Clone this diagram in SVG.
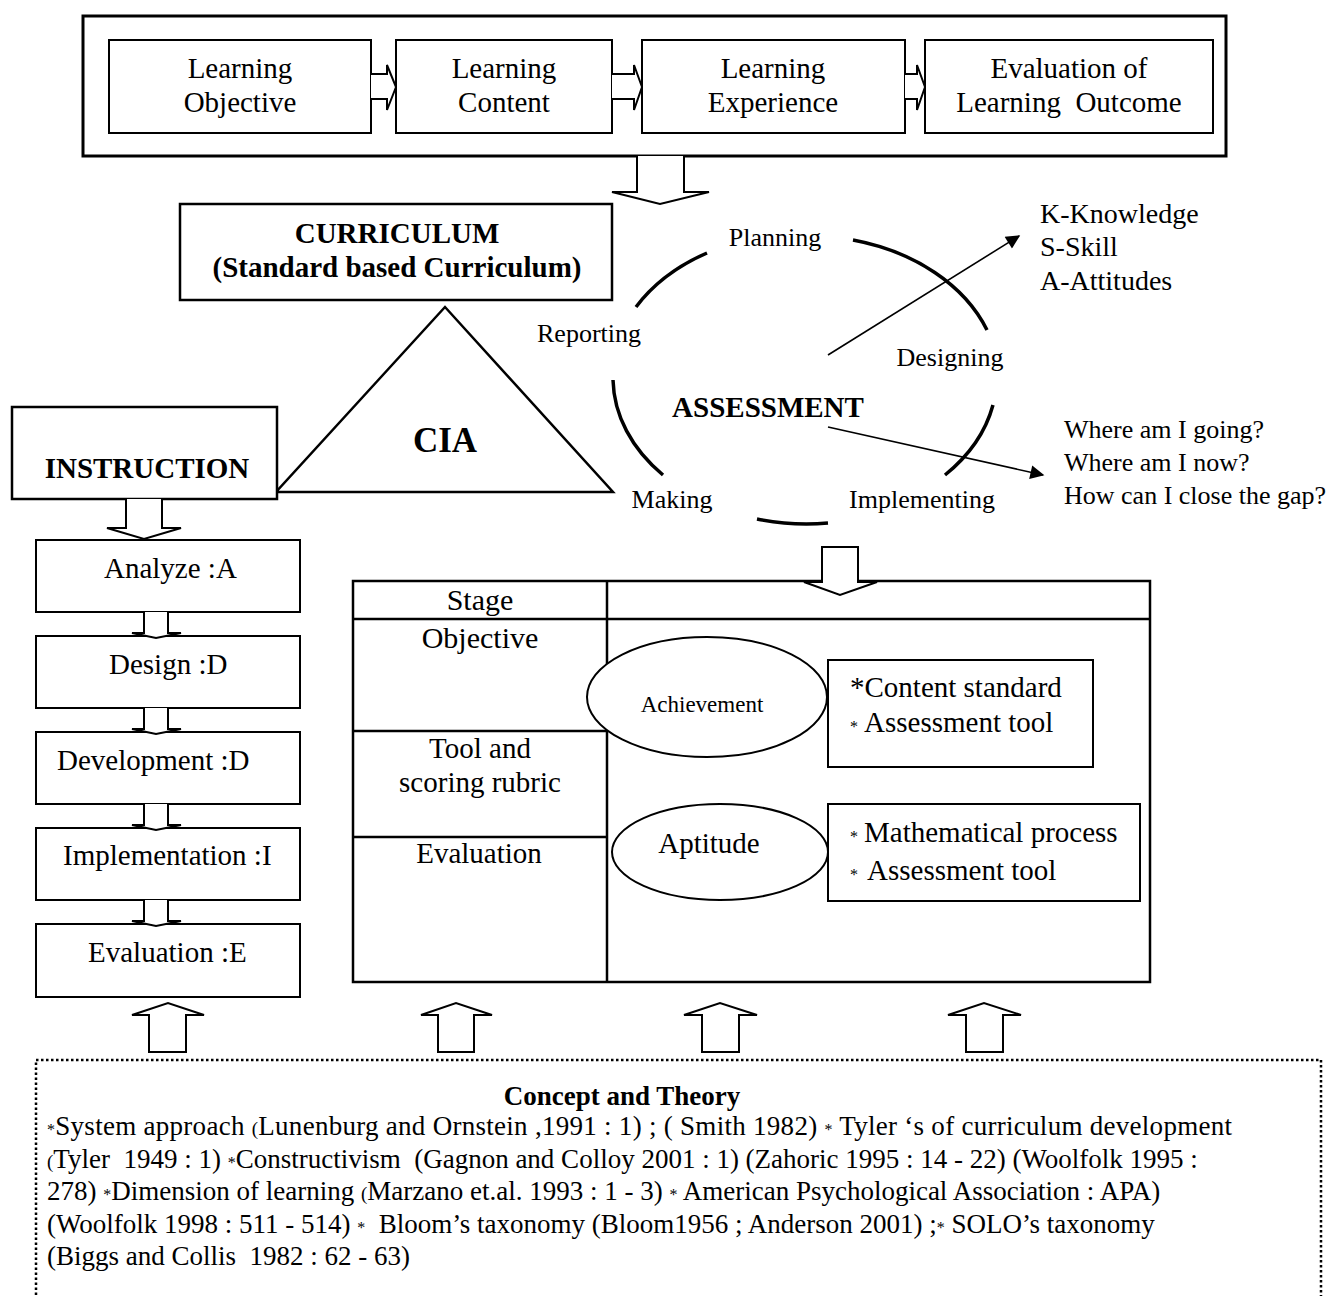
<svg xmlns="http://www.w3.org/2000/svg" width="1336" height="1296" viewBox="0 0 1336 1296">
<style>
text{font-family:"Liberation Serif","Times New Roman",serif;fill:#000;white-space:pre}
.b{font-weight:bold}
.m{text-anchor:middle}
.box{fill:#fff;stroke:#000;stroke-width:2}
.bx{fill:#fff;stroke:#000;stroke-width:2.5}
.arr{fill:#fff;stroke:#000;stroke-width:2;stroke-linejoin:miter}
.arc{fill:none;stroke:#000;stroke-width:3.5}
.ln{fill:none;stroke:#000;stroke-width:1.6}
.tl{fill:none;stroke:#000;stroke-width:2.5}
.s{font-size:16px}
</style>
<defs>
<marker id="ah" viewBox="0 0 10 10" refX="9" refY="5" markerWidth="20" markerHeight="14" markerUnits="userSpaceOnUse" orient="auto">
<path d="M0,0 L10,5 L0,10 z" fill="#000"/>
</marker>
</defs>

<g id="process">
<rect x="83" y="16" width="1143" height="140" fill="#fff" stroke="#000" stroke-width="3"/>
<g id="n-objective"><rect class="box" x="109" y="40" width="262" height="93"/>
<text class="m" x="240" y="78" font-size="29">Learning</text><text class="m" x="240" y="112" font-size="29">Objective</text></g>
<g id="n-content"><rect class="box" x="396" y="40" width="216" height="93"/>
<text class="m" x="504" y="78" font-size="29">Learning</text><text class="m" x="504" y="112" font-size="29">Content</text></g>
<g id="n-experience"><rect class="box" x="642" y="40" width="263" height="93"/>
<text class="m" x="773" y="78" font-size="29">Learning</text><text class="m" x="773" y="112" font-size="29">Experience</text></g>
<g id="n-evaluation"><rect class="box" x="925" y="40" width="288" height="93"/>
<text class="m" x="1069" y="78" font-size="29">Evaluation of</text><text class="m" x="1069" y="112" font-size="29">Learning  Outcome</text></g>
</g>

<g id="n-curriculum"><rect class="bx" x="180" y="204" width="432" height="96"/>
<text class="b m" x="397" y="243" font-size="29">CURRICULUM</text>
<text class="b m" x="397" y="277" font-size="29">(Standard based Curriculum)</text></g>

<g id="n-cia"><polygon class="bx" points="445,307 276,492 613,492"/>
<text class="b m" x="445" y="452" font-size="35">CIA</text></g>

<g id="n-instruction"><rect class="bx" x="12" y="407" width="265" height="92"/>
<text class="b m" x="147" y="478" font-size="29">INSTRUCTION</text></g>

<g id="n-assessment">
<path class="arc" d="M636 307 A192 145 0 0 1 707 253"/>
<path class="arc" d="M853 240 A192 145 0 0 1 987 330"/>
<path class="arc" d="M993 405 A192 145 0 0 1 945 475"/>
<path class="arc" d="M828 523 A192 145 0 0 1 757 519"/>
<path class="arc" d="M663 475 A192 145 0 0 1 613 380"/>
<text class="m" x="775" y="246" font-size="26">Planning</text>
<text class="m" x="589" y="342" font-size="26">Reporting</text>
<text class="m" x="950" y="366" font-size="26">Designing</text>
<text class="m" x="672" y="508" font-size="26">Making</text>
<text class="m" x="922" y="508" font-size="26">Implementing</text>
<text class="b m" x="768" y="417" font-size="29">ASSESSMENT</text>
</g>

<g id="n-ksa">
<text x="1040" y="223" font-size="28">K-Knowledge</text>
<text x="1040" y="256" font-size="28">S-Skill</text>
<text x="1040" y="290" font-size="28">A-Attitudes</text>
</g>

<g id="n-questions">
<text x="1064" y="438" font-size="26">Where am I going?</text>
<text x="1064" y="471" font-size="26">Where am I now?</text>
<text x="1064" y="504" font-size="26">How can I close the gap?</text>
</g>

<g id="n-addie">
<g id="n-analyze"><rect class="box" x="36" y="540" width="264" height="72"/><text x="104" y="578" font-size="29">Analyze :A</text></g>
<g id="n-design"><rect class="box" x="36" y="636" width="264" height="72"/><text x="109" y="674" font-size="29">Design :D</text></g>
<g id="n-development"><rect class="box" x="36" y="732" width="264" height="72"/><text x="57" y="770" font-size="29">Development :D</text></g>
<g id="n-implementation"><rect class="box" x="36" y="828" width="264" height="72"/><text x="63" y="865" font-size="29">Implementation :I</text></g>
<g id="n-eval"><rect class="box" x="36" y="924" width="264" height="73"/><text x="88" y="962" font-size="29">Evaluation :E</text></g>
</g>

<g id="n-table">
<rect class="tl" x="353" y="581" width="797" height="401"/>
<line class="tl" x1="607" y1="581" x2="607" y2="982"/>
<line class="tl" x1="353" y1="619" x2="1150" y2="619"/>
<line class="tl" x1="353" y1="731" x2="607" y2="731"/>
<line class="tl" x1="353" y1="837" x2="607" y2="837"/>
<text class="m" x="480" y="610" font-size="30">Stage</text>
<text class="m" x="480" y="648" font-size="30">Objective</text>
<text class="m" x="480" y="758" font-size="29">Tool and</text>
<text class="m" x="480" y="792" font-size="29">scoring rubric</text>
<text class="m" x="479" y="863" font-size="29">Evaluation</text>
</g>

<g id="n-achievement"><ellipse fill="#fff" stroke="#000" stroke-width="2" cx="707" cy="697" rx="120" ry="60"/>
<text class="m" x="702" y="712" font-size="23">Achievement</text></g>
<g id="n-aptitude"><ellipse fill="#fff" stroke="#000" stroke-width="2" cx="720" cy="852" rx="108" ry="48"/>
<text class="m" x="709" y="853" font-size="29">Aptitude</text></g>
<g id="n-content-box"><rect class="box" x="828" y="660" width="265" height="107"/>
<text x="850" y="697" font-size="29">*Content standard</text>
<text x="850" y="732" font-size="29"><tspan class="s">*</tspan><tspan x="864">Assessment tool</tspan></text></g>
<g id="n-math-box"><rect class="box" x="828" y="804" width="312" height="97"/>
<text x="850" y="842" font-size="29"><tspan class="s">*</tspan><tspan x="864">Mathematical process</tspan></text>
<text x="850" y="880" font-size="29"><tspan class="s">*</tspan><tspan x="867">Assessment tool</tspan></text></g>

<g id="n-concept">
<rect x="36" y="1060" width="1285" height="260" fill="none" stroke="#000" stroke-width="2.5" stroke-dasharray="2.5 2.5"/>
<text class="b m" x="622" y="1105" font-size="27">Concept and Theory</text>
<text x="47" y="1135" font-size="27" textLength="1185" lengthAdjust="spacing"><tspan class="s">*</tspan>System approach <tspan font-size="19">(</tspan>Lunenburg and Ornstein ,1991 : 1) ; ( Smith 1982) <tspan class="s">*</tspan> Tyler ‘s of curriculum development</text>
<text x="47" y="1168" font-size="27"><tspan font-size="19">(</tspan>Tyler  1949 : 1) <tspan class="s">*</tspan>Constructivism  (Gagnon and Colloy 2001 : 1) (Zahoric 1995 : 14 - 22) (Woolfolk 1995 :</text>
<text x="47" y="1200" font-size="27">278) <tspan class="s">*</tspan>Dimension of learning <tspan font-size="19">(</tspan>Marzano et.al. 1993 : 1 - 3) <tspan class="s">*</tspan> American Psychological Association : APA)</text>
<text x="47" y="1233" font-size="27">(Woolfolk 1998 : 511 - 514) <tspan class="s">*</tspan>  Bloom’s taxonomy (Bloom1956 ; Anderson 2001) ;<tspan class="s">*</tspan> SOLO’s taxonomy</text>
<text x="47" y="1265" font-size="27">(Biggs and Collis  1982 : 62 - 63)</text>
</g>

<g id="connectors">
<path class="arr" d="M371 74 L387 74 L387 65 L396 87 L387 110 L387 99 L371 99"/>
<path class="arr" d="M612 74 L634 74 L634 65 L642 87 L634 110 L634 99 L612 99"/>
<path class="arr" d="M905 74 L917 74 L917 65 L925 87 L917 110 L917 99 L905 99"/>
<path class="arr" d="M637 156 L637 192 L612 192 L660 204 L709 192 L684 192 L684 156"/>
<path class="arr" d="M126 499 L126 528 L107 528 L144 539 L181 528 L162 528 L162 499"/>
<path class="arr" d="M144 612 L144 633 L132 633 L156 638 L181 633 L168 633 L168 612"/>
<path class="arr" d="M144 708 L144 729 L132 729 L156 734 L181 729 L168 729 L168 708"/>
<path class="arr" d="M144 804 L144 825 L132 825 L156 830 L181 825 L168 825 L168 804"/>
<path class="arr" d="M144 900 L144 921 L132 921 L156 926 L181 921 L168 921 L168 900"/>
<path class="arr" d="M822 547 L858 547 L858 582 L877 582 L840 595 L804 582 L822 582 Z"/>
<path class="arr" d="M149 1052 L149 1015 L132 1015 L168 1003 L204 1015 L186 1015 L186 1052 Z"/>
<path class="arr" d="M438 1052 L438 1015 L421 1015 L456 1003 L492 1015 L474 1015 L474 1052 Z"/>
<path class="arr" d="M702 1052 L702 1015 L684 1015 L720 1003 L757 1015 L739 1015 L739 1052 Z"/>
<path class="arr" d="M966 1052 L966 1015 L948 1015 L984 1003 L1021 1015 L1003 1015 L1003 1052 Z"/>
<line class="ln" x1="828" y1="355" x2="1019" y2="236" marker-end="url(#ah)"/>
<line class="ln" x1="828" y1="427" x2="1043" y2="475" marker-end="url(#ah)"/>
</g>
</svg>
